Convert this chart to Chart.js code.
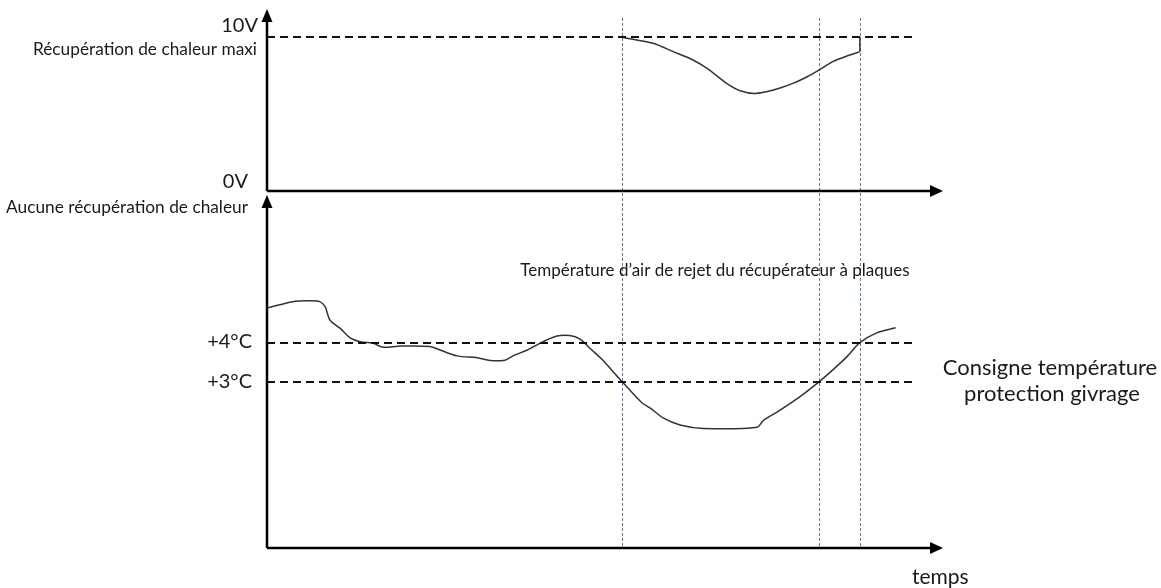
<!DOCTYPE html>
<html lang="fr">
<head>
<meta charset="utf-8">
<title>Protection givrage récupérateur à plaques</title>
<script src="https://cdn.jsdelivr.net/npm/chart.js@4.4.1/dist/chart.umd.min.js"></script>
<style>
  html, body { margin: 0; padding: 0; background: #fff; }
  #wrap { position: relative; width: 1161px; height: 588px; }
</style>
</head>
<body>
<div id="wrap"><canvas id="givrage"></canvas></div>
<script>
// time runs 0..100 (arbitrary units) on both panels

// 0-10V output of the heat recovery
const timeSignal = [52.4, 54.1, 57.1, 60.1, 63.0, 65.1, 68.0, 70.0, 72.2, 74.9, 77.8, 79.9, 81.7, 83.7, 86.2, 87.7];
const signalVolts = [10.0, 9.85, 9.59, 9.05, 8.51, 7.97, 6.99, 6.51, 6.34, 6.56, 6.99, 7.42, 7.86, 8.40, 8.83, 9.05];

// exhaust air temperature after the plate exchanger
const timeTemp = [0.1, 3.8, 6.4, 7.8, 8.6, 9.3, 10.8, 12.3, 13.8, 15.7, 17.2, 19.7, 24.1, 25.6, 28.1, 31.1,
  33.0, 35.2, 36.4, 38.5, 40.8, 42.9, 44.8, 46.3, 47.8, 49.7, 51.2, 52.5, 53.7, 55.5, 56.7, 58.6,
  61.1, 64.5, 72.5, 73.4, 75.9, 78.8, 81.7, 83.7, 85.8, 87.7, 90.2, 93.0];
const tempRejet = [4.90, 5.06, 5.08, 5.06, 4.93, 4.59, 4.38, 4.13, 4.03, 3.99, 3.89, 3.92, 3.91, 3.82, 3.67, 3.62,
  3.55, 3.56, 3.67, 3.82, 4.03, 4.18, 4.19, 4.10, 3.86, 3.56, 3.26, 3.01, 2.79, 2.46, 2.33, 2.08,
  1.90, 1.81, 1.84, 2.01, 2.28, 2.62, 3.01, 3.31, 3.65, 4.01, 4.26, 4.39];

const eventTimes = [52.5, 81.7, 87.7];
const maxVolts = 10;
const setpointHigh = 4;
const setpointLow = 3;
const refLineEnd = 95.8;

const toPoints = (xs, ys) => xs.map((x, i) => ({ x: x, y: ys[i] }));
const flatLine = (y) => [{ x: 0, y: y }, { x: refLineEnd, y: y }];

const FONT = "Lato, 'Open Sans', sans-serif";

function arrow(ctx, x, y, dir) {
  ctx.beginPath();
  if (dir === "up") {
    ctx.moveTo(x, y);
    ctx.lineTo(x - 5.5, y + 13);
    ctx.lineTo(x + 5.5, y + 13);
  } else {
    ctx.moveTo(x, y);
    ctx.lineTo(x - 13, y - 6);
    ctx.lineTo(x - 13, y + 6);
  }
  ctx.closePath();
  ctx.fill();
}

const schema = {
  id: "schema",
  beforeDatasetsDraw(chart) {
    const { ctx, chartArea, scales } = chart;
    // event markers across both panels
    ctx.save();
    ctx.strokeStyle = "#4a7bd0";
    ctx.lineWidth = 1;
    ctx.setLineDash([3, 2]);
    eventTimes.forEach((t) => {
      const x = Math.round(scales.x.getPixelForValue(t)) + 0.5;
      ctx.beginPath();
      ctx.moveTo(x, chartArea.top + 9);
      ctx.lineTo(x, chartArea.bottom);
      ctx.stroke();
    });
    ctx.restore();
  },
  afterDatasetsDraw(chart) {
    const { ctx, chartArea, scales } = chart;
    const left = scales.x.getPixelForValue(0);
    const right = chartArea.right;
    const y0V = scales.yV.getPixelForValue(0);
    const y10V = scales.yV.getPixelForValue(maxVolts);
    const yBase = scales.yT.bottom;

    ctx.save();
    ctx.strokeStyle = "#000";
    ctx.fillStyle = "#000";
    ctx.lineWidth = 2.5;
    ctx.beginPath();
    ctx.moveTo(left, y0V);
    ctx.lineTo(left, scales.yV.top + 10);
    ctx.moveTo(left, y0V);
    ctx.lineTo(right - 10, y0V);
    ctx.moveTo(left, yBase);
    ctx.lineTo(left, scales.yT.top + 14);
    ctx.moveTo(left, yBase);
    ctx.lineTo(right - 10, yBase);
    ctx.stroke();
    arrow(ctx, left, scales.yV.top, "up");
    arrow(ctx, left, scales.yT.top + 4, "up");
    arrow(ctx, right, y0V, "right");
    arrow(ctx, right, yBase, "right");

    ctx.fillStyle = "#1a1a1a";
    ctx.textBaseline = "alphabetic";
    ctx.textAlign = "right";
    ctx.font = "20px " + FONT;
    ctx.fillText("10V", left - 9, y10V - 5);
    ctx.fillText("0V", left - 19, y0V - 3);
    ctx.font = "17.3px " + FONT;
    ctx.fillText("Récupération de chaleur maxi", left - 10, y10V + 18);
    ctx.fillText("Aucune récupération de chaleur", left - 19, y0V + 22);
    ctx.font = "20px " + FONT;
    ctx.fillText("+4°C", left - 15, scales.yT.getPixelForValue(setpointHigh) + 5);
    ctx.fillText("+3°C", left - 15, scales.yT.getPixelForValue(setpointLow) + 6);

    ctx.textAlign = "center";
    ctx.font = "17px " + FONT;
    ctx.fillText("Température d\u2019air de rejet du récupérateur à plaques", 715, 276);
    ctx.font = "22px " + FONT;
    ctx.fillText("Consigne température", 1050, 375);
    ctx.fillText("protection givrage", 1052, 401);
    ctx.textAlign = "left";
    ctx.font = "21px " + FONT;
    ctx.fillText("temps", 912, 584);
    ctx.restore();
  }
};

const dashed = { borderColor: "#111", borderWidth: 2, borderDash: [8, 5], pointRadius: 0, tension: 0 };
const curve = { borderColor: "#333", borderWidth: 1.5, pointRadius: 0, tension: 0.3 };

new Chart(document.getElementById("givrage"), {
  type: "line",
  data: {
    datasets: [
      Object.assign({ label: "10V", yAxisID: "yV", data: flatLine(maxVolts) }, dashed),
      Object.assign({ label: "+4°C", yAxisID: "yT", data: flatLine(setpointHigh) }, dashed),
      Object.assign({ label: "+3°C", yAxisID: "yT", data: flatLine(setpointLow) }, dashed),
      Object.assign({ label: "Signal récupération", yAxisID: "yV", data: toPoints(timeSignal, signalVolts) }, curve),
      Object.assign({ label: "Retour maxi", yAxisID: "yV",
        data: [{ x: timeSignal[timeSignal.length - 1], y: signalVolts[signalVolts.length - 1] },
               { x: timeSignal[timeSignal.length - 1], y: maxVolts }] }, curve, { tension: 0 }),
      Object.assign({ label: "Température air rejet", yAxisID: "yT", data: toPoints(timeTemp, tempRejet) }, curve)
    ]
  },
  options: {
    responsive: true,
    maintainAspectRatio: false,
    animation: false,
    layout: { padding: { left: 267, right: 218, top: 9, bottom: 40 } },
    plugins: { legend: { display: false }, tooltip: { enabled: false } },
    scales: {
      x: { type: "linear", min: 0, max: 100, display: false },
      // stacked panels: the first scale listed sits at the bottom
      yT: { type: "linear", position: "left", stack: "panels", stackWeight: 357, min: -1.256, max: 7.897, display: false },
      yV: { type: "linear", position: "left", stack: "panels", stackWeight: 182, min: 0, max: 11.82, display: false }
    }
  },
  plugins: [schema]
});
</script>
</body>
</html>
